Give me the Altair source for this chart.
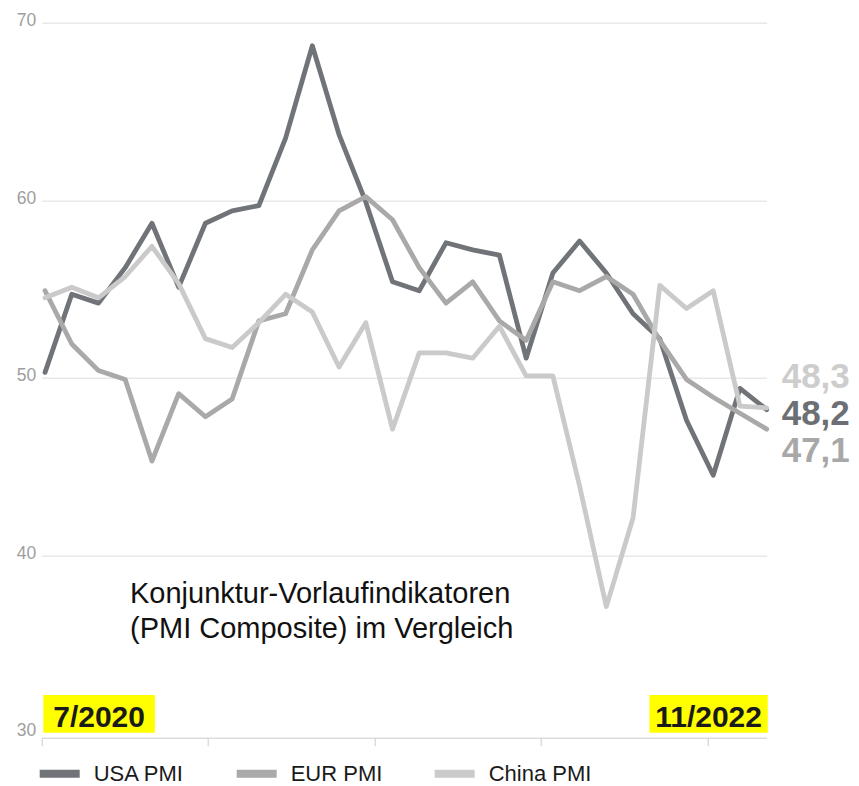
import altair as alt
import pandas as pd

# ---------------- data ----------------
months = ["7/2020", "8/2020", "9/2020", "10/2020", "11/2020", "12/2020",
          "1/2021", "2/2021", "3/2021", "4/2021", "5/2021", "6/2021",
          "7/2021", "8/2021", "9/2021", "10/2021", "11/2021", "12/2021",
          "1/2022", "2/2022", "3/2022", "4/2022", "5/2022", "6/2022",
          "7/2022", "8/2022", "9/2022", "10/2022"]

usa_pmi = [50.3, 54.7, 54.2, 56.2, 58.7, 55.1, 58.7, 59.4, 59.7, 63.5,
           68.7, 63.7, 59.9, 55.4, 54.9, 57.6, 57.2, 56.9, 51.1, 55.9,
           57.7, 55.9, 53.6, 52.2, 47.6, 44.5, 49.4, 48.2]
eur_pmi = [54.9, 51.9, 50.4, 49.9, 45.3, 49.1, 47.8, 48.8, 53.2, 53.6,
           57.2, 59.4, 60.2, 58.9, 56.2, 54.2, 55.4, 53.2, 52.1, 55.4,
           54.9, 55.7, 54.7, 52.1, 49.9, 48.9, 48.0, 47.1]
china_pmi = [54.5, 55.1, 54.5, 55.7, 57.4, 55.3, 52.2, 51.7, 53.1, 54.7,
             53.7, 50.6, 53.1, 47.1, 51.4, 51.4, 51.1, 52.9, 50.1, 50.1,
             43.9, 37.1, 42.1, 55.2, 53.9, 54.9, 48.4, 48.3]

series_names = ["USA PMI", "EUR PMI", "China PMI"]
series_colors = ["#707378", "#a9a9a9", "#cacaca"]

end_labels = ["48,2", "47,1", "48,3"]          # USA, EUR, China
end_label_colors = ["#6c6f74", "#a8a8a8", "#cdcdcd"]
end_label_dy = [15, 33, -20]                    # label spreading offsets (px)

y_ticks = [30, 40, 50, 60, 70]
x_ticks = [-0.125, 6.1, 12.33, 18.56, 24.79]

date_labels = ["7/2020", "11/2022"]
date_box_x0 = [-0.065, 22.61]
date_box_x1 = [4.11, 27.04]
date_box_y0 = [30.0, 30.0]
date_box_y1 = [32.12, 32.12]

note_lines = ["Konjunktur-Vorlaufindikatoren", "(PMI Composite) im Vergleich"]
note_x = 3.18
note_y = 37.3

FONT = "Liberation Sans"

# ---------------- tables ----------------
rows = []
for name, vals in zip(series_names, [usa_pmi, eur_pmi, china_pmi]):
    for i, (m, v) in enumerate(zip(months, vals)):
        rows.append({"i": i, "month": m, "series": name, "v": v})
df = pd.DataFrame(rows)

last_vals = [usa_pmi[-1], eur_pmi[-1], china_pmi[-1]]
df_end = pd.DataFrame({
    "i": [len(months) - 1] * 3,
    "v": last_vals,
    "label": end_labels,
})

df_box = pd.DataFrame({
    "x0": date_box_x0, "x1": date_box_x1,
    "y0": date_box_y0, "y1": date_box_y1,
    "label": date_labels,
})
df_box["xm"] = (df_box["x0"] + df_box["x1"]) / 2
df_box["yb"] = df_box["y0"] + 0.32

x_scale = alt.Scale(domain=[-0.125, len(months) - 1], nice=False, zero=False)
y_scale = alt.Scale(domain=[30, 70], nice=False, zero=False)

x_enc = alt.X("i:Q", scale=x_scale,
              axis=alt.Axis(values=x_ticks, labels=False, ticks=True, tickSize=8,
                            tickColor="#cccccc", domainColor="#cccccc",
                            grid=False, offset=5, title=None))
y_enc = alt.Y("v:Q", scale=y_scale,
              axis=alt.Axis(values=y_ticks, title=None, ticks=False, domain=False,
                            labelColor="#9e9e9e", labelFontSize=17.5, labelFont=FONT,
                            labelPadding=6, labelBaseline="middle", labelOffset=-2,
                            grid=True,
                            gridColor={"condition": {"test": "datum.value === 30",
                                                     "value": "transparent"},
                                       "value": "#dddddd"}))

lines = alt.Chart(df).mark_line(strokeWidth=4.8, strokeCap="round",
                                strokeJoin="round").encode(
    x=x_enc,
    y=y_enc,
    color=alt.Color("series:N",
                    scale=alt.Scale(domain=series_names, range=series_colors),
                    sort=series_names,
                    legend=alt.Legend(orient="none", legendX=-6, legendY=727,
                                      direction="horizontal", title=None,
                                      symbolType="stroke", symbolSize=1600,
                                      symbolStrokeWidth=8, labelFontSize=22,
                                      labelFont=FONT, labelColor="#1a1a1a",
                                      columnPadding=36, labelOffset=10)),
    detail="series:N",
)

end_layers = []
for k in range(3):
    end_layers.append(
        alt.Chart(df_end.iloc[[k]]).mark_text(
            align="left", baseline="alphabetic", dx=15, dy=end_label_dy[k],
            fontSize=35, fontWeight="bold", font=FONT, color=end_label_colors[k]
        ).encode(x=alt.X("i:Q", scale=x_scale),
                 y=alt.Y("v:Q", scale=y_scale),
                 text="label:N")
    )

boxes = alt.Chart(df_box).mark_rect(color="#ffff00").encode(
    x=alt.X("x0:Q", scale=x_scale), x2="x1:Q",
    y=alt.Y("y0:Q", scale=y_scale), y2="y1:Q",
)
box_text = alt.Chart(df_box).mark_text(
    align="center", baseline="alphabetic", fontSize=30, fontWeight="bold",
    font=FONT, color="#1a1a1a"
).encode(x=alt.X("xm:Q", scale=x_scale),
         y=alt.Y("yb:Q", scale=y_scale),
         text="label:N")

note = alt.Chart(pd.DataFrame({"a": [0]})).mark_text(
    text=note_lines, align="left", baseline="alphabetic", fontSize=29,
    lineHeight=35, font=FONT, color="#111111"
).encode(x=alt.datum(note_x, scale=x_scale),
         y=alt.datum(note_y, scale=y_scale))

chart = alt.layer(lines, *end_layers, boxes, box_text, note).properties(
    width=725, height=710,
    autosize=alt.AutoSizeParams(type="none"),
    padding={"left": 33.7, "top": 14.7, "right": 84, "bottom": 53},
).configure(font=FONT).configure_view(stroke="transparent", strokeWidth=0)

chart.save("out.html", embed_options={"renderer": "svg", "actions": False})
